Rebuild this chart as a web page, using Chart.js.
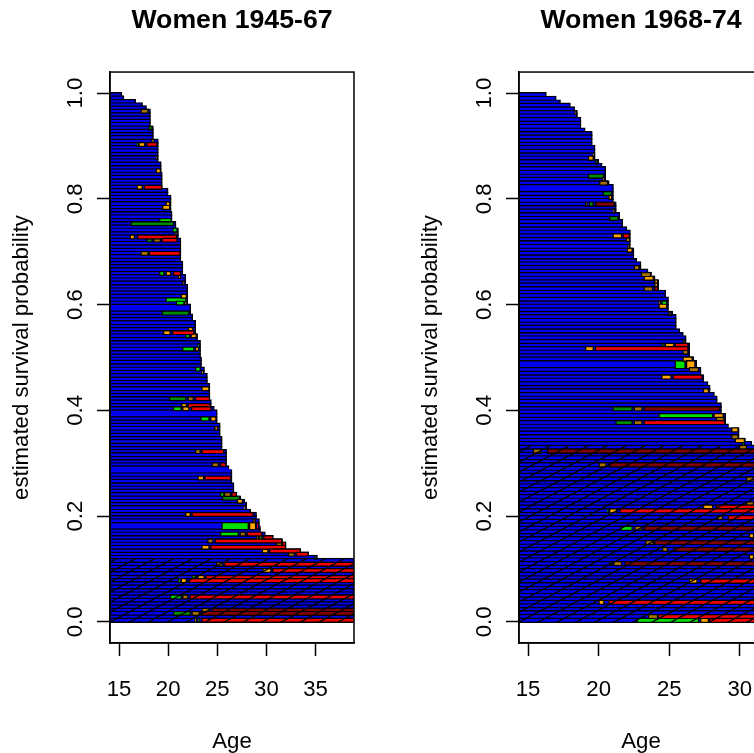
<!DOCTYPE html>
<html>
<head>
<meta charset="utf-8">
<title>Women survival</title>
<script src="https://cdn.jsdelivr.net/npm/chart.js@4"></script>
<style>
    html, body { margin: 0; padding: 0; width: 754px; height: 753px; overflow: hidden; background: #fff; }
    canvas { position: absolute; top: 0; }
    #panel1 { left: 0; }
    #panel2 { left: 409px; }
</style>
</head>
<body>
<canvas id="panel1" width="409" height="753"></canvas>
<canvas id="panel2" width="409" height="753"></canvas>
<script>
// Women 1945-67: one row per woman, top to bottom
let survival1 = [
    0.997,0.991,0.984,0.978,0.972,0.966,0.959,0.953,0.947,0.941,0.934,0.928,0.922,0.916,0.909,0.903,
    0.897,0.891,0.884,0.878,0.872,0.866,0.859,0.853,0.847,0.841,0.834,0.828,0.822,0.816,0.809,0.803,
    0.797,0.791,0.784,0.778,0.772,0.766,0.759,0.753,0.747,0.741,0.734,0.728,0.722,0.716,0.709,0.703,
    0.697,0.691,0.684,0.678,0.672,0.666,0.659,0.653,0.647,0.641,0.634,0.628,0.622,0.616,0.609,0.603,
    0.597,0.591,0.584,0.578,0.572,0.566,0.559,0.553,0.547,0.541,0.534,0.528,0.522,0.516,0.509,0.503,
    0.497,0.491,0.484,0.478,0.472,0.466,0.459,0.453,0.447,0.441,0.434,0.428,0.422,0.416,0.409,0.403,
    0.397,0.391,0.384,0.378,0.372,0.366,0.359,0.353,0.347,0.341,0.334,0.328,0.322,0.316,0.309,0.303,
    0.297,0.291,0.284,0.278,0.272,0.266,0.259,0.253,0.247,0.241,0.234,0.228,0.222,0.216,0.209,0.203,
    0.197,0.191,0.184,0.178,0.172,0.166,0.159,0.153,0.147,0.141,0.134,0.128,0.122,0.116,0.109,0.103,
    0.097,0.091,0.084,0.078,0.072,0.066,0.059,0.053,0.047,0.041,0.034,0.028,0.022,0.016,0.009,0.003
];
let ends1 = [
    15.3,15.5,16.7,17.4,17.8,18.2,18.2,18.2,18.2,18.2,18.5,18.5,18.5,18.5,19.0,19.0,
    19.0,19.0,19.0,19.0,19.0,19.3,19.3,19.3,19.4,19.4,19.4,19.4,19.4,20.0,20.0,20.3,
    20.3,20.3,20.3,20.3,20.4,20.4,20.4,20.8,20.8,21.05,21.05,21.05,21.3,21.3,21.3,21.3,
    21.3,21.3,21.3,21.5,21.5,21.5,21.5,21.8,21.8,21.8,22.0,22.0,22.0,22.0,22.0,22.0,
    22.3,22.3,22.3,22.5,22.5,22.8,22.8,22.8,22.8,23.0,23.0,23.3,23.3,23.3,23.3,23.3,
    23.4,23.4,23.4,23.7,23.7,24.0,24.0,24.0,24.25,24.25,24.25,24.25,24.25,24.4,24.4,24.7,
    25.0,25.0,25.0,25.0,25.3,25.3,25.3,25.3,25.5,25.5,25.5,25.5,25.95,25.95,25.95,25.95,
    25.95,26.2,26.5,26.5,26.5,26.5,26.7,26.7,26.7,27.0,27.4,27.8,28.0,28.0,28.4,29.0,
    29.0,29.3,29.3,29.4,29.4,29.9,30.7,31.65,32.0,32.0,33.5,34.3,35.2,40,40,40,
    40,40,40,40,40,40,40,40,40,40,40,40,40,40,40,40
];
// [row, from age, to age]
let green1 = [[15,16.8,17.0],[38,19.1,20.35],[41,20.45,20.95],[54,19.1,19.6],[62,19.75,21.85],[63,20.8,21.65],
    [73,21.75,22.2],[76,23.0,23.2],[77,21.45,22.65],[83,22.75,23.3],[95,20.5,21.35],[98,23.3,24.2],[121,25.3,25.7],
    [130,25.45,28.2],[131,25.45,28.2],[133,25.3,27.2],[134,29.25,29.6],[146,22.4,22.9],
    [147,21.0,21.3],[152,20.2,21.35],[159,23.0,23.25]];
let darkGreen1 = [[10,18.0,18.4],[39,16.2,20.6],[44,17.8,18.4],[66,19.35,22.15],[92,20.1,21.85],[122,25.5,27.3],
    [140,34.9,35.1],[157,20.5,22.3]];
let orange1 = [[14,18.3,18.6],[15,17.0,17.65],[23,18.75,19.25],[28,16.8,17.4],[33,19.75,20.2],[34,19.4,20.2],
    [42,20.7,20.9],[43,16.1,16.6],[54,19.75,20.3],[55,21.0,21.3],[61,21.3,21.9],[63,21.7,21.9],[71,22.0,22.55],
    [72,19.5,20.25],[73,22.3,22.9],[77,22.75,23.15],[84,23.4,23.6],[89,23.4,24.2],[94,21.35,21.9],[95,21.45,22.15],
    [98,24.3,24.9],[116,23.0,23.65],[123,27.0,27.6],[125,27.7,27.85],[127,21.75,22.3],[130,28.25,28.95],[131,28.25,28.95],
    [134,28.95,29.2],[137,23.4,24.2],[138,29.55,30.2],[144,29.6,30.5],[146,23.0,23.7],[147,21.3,21.9],
    [159,22.7,22.9]];
let darkOrange1 = [[5,17.2,18.0],[19,18.75,18.9],[44,18.5,19.25],[48,17.2,18.0],[57,21.45,21.65],[92,22.0,22.6],
    [101,24.7,25.1],[108,22.75,23.3],[112,24.45,25.15],[121,25.7,26.4],[129,28.6,28.9],[133,27.3,27.9],[135,24.0,24.6],
    [136,31.0,31.6],[139,32.2,32.9],[142,24.9,25.6],[152,21.45,22.05],[156,23.4,24.25],[157,22.4,23.2]];
let red1 = [[15,17.8,18.9],[28,17.55,19.4],[43,16.85,20.9],[44,19.35,20.95],[48,18.05,21.25],[54,20.5,21.3],
    [72,20.4,22.65],[92,22.75,24.25],[94,22.0,24.3],[95,22.35,24.4],[108,23.4,25.7],[112,25.3,25.9],[116,23.7,26.4],
    [121,26.45,27.0],[127,22.4,28.7],[130,29.0,29.2],[131,29.0,29.2],[133,28.0,29.6],[134,29.7,30.7],[135,24.75,31.6],
    [136,31.6,32.0],[137,24.3,32.0],[138,30.3,33.5],[139,33.0,34.3],[142,25.7,40],[144,30.6,40],
    [146,23.8,40],[147,22.1,40],[152,22.2,40],[159,23.4,40]];
let darkRed1 = [[156,24.45,40],[157,23.3,40]];
let wideRows1 = [64, 96, 113, 130];
let firstHatched1 = 141;
let ageTicks1 = [15, 20, 25, 30, 35];

// Women 1968-74
let survival2 = [
    0.997,0.990,0.983,0.977,0.970,0.963,0.957,0.950,0.943,0.937,0.930,0.923,0.917,0.910,0.903,
    0.897,0.890,0.883,0.877,0.870,0.863,0.857,0.850,0.843,0.837,0.830,0.823,0.817,0.810,0.803,
    0.797,0.790,0.783,0.777,0.770,0.763,0.757,0.750,0.743,0.737,0.730,0.723,0.717,0.710,0.703,
    0.697,0.690,0.683,0.677,0.670,0.663,0.657,0.650,0.643,0.637,0.630,0.623,0.617,0.610,0.603,
    0.597,0.590,0.583,0.577,0.570,0.563,0.557,0.550,0.543,0.537,0.530,0.523,0.517,0.510,0.503,
    0.497,0.490,0.483,0.477,0.470,0.463,0.457,0.450,0.443,0.437,0.430,0.423,0.417,0.410,0.403,
    0.397,0.390,0.383,0.377,0.370,0.363,0.357,0.350,0.343,0.337,0.330,0.323,0.317,0.310,0.303,
    0.297,0.290,0.283,0.277,0.270,0.263,0.257,0.250,0.243,0.237,0.230,0.223,0.217,0.210,0.203,
    0.197,0.190,0.183,0.177,0.170,0.163,0.157,0.150,0.143,0.137,0.130,0.123,0.117,0.110,0.103,
    0.097,0.090,0.083,0.077,0.070,0.063,0.057,0.050,0.043,0.037,0.030,0.023,0.017,0.010,0.003
];
let ends2 = [
    16.3,17.0,17.3,18.0,18.3,18.5,18.5,18.75,18.75,18.75,19.05,19.55,19.55,19.55,19.55,
    19.75,19.75,19.75,19.75,20.0,20.25,20.5,20.5,20.5,20.5,20.75,21.05,21.05,21.05,21.05,
    21.05,21.25,21.25,21.25,21.5,21.5,21.7,21.7,22.0,22.25,22.25,22.25,22.25,22.25,22.5,
    22.5,22.5,22.7,23.0,23.0,23.5,23.75,24.0,24.25,24.25,24.25,24.75,24.75,24.95,24.95,
    24.95,24.95,25.25,25.5,25.5,25.5,25.5,25.75,26.0,26.2,26.2,26.45,26.45,26.45,26.45,
    26.75,26.95,26.95,27.25,27.25,27.45,27.45,27.75,27.9,27.9,28.2,28.4,28.4,28.7,28.7,
    28.7,29.0,29.0,29.0,29.2,29.95,29.95,29.95,30.4,30.85,32,32,32,32,32,
    32,32,32,32,32,32,32,32,32,32,32,32,32,32,32,
    32,32,32,32,32,32,32,32,32,32,32,32,32,32,32,
    32,32,32,32,32,32,32,32,32,32,32,32,32,32,32
];
let green2 = [[59,24.45,24.85],[71,24.45,24.65],[76,25.4,26.15],[77,25.4,26.15],[91,24.25,28.1],[99,30.15,30.35],
    [118,20.6,20.7],[123,21.55,22.4],[149,22.7,27.1]];
let darkGreen2 = [[19,19.75,19.95],[23,19.25,20.4],[28,20.3,20.95],[31,19.3,19.65],[35,20.75,21.4],[89,21.0,22.4],
    [93,21.2,22.4],[133,20.75,20.95]];
let orange2 = [[17,19.6,19.7],[18,19.25,19.65],[24,20.25,20.4],[29,20.7,20.95],[33,21.0,21.15],[40,21.0,21.65],
    [41,21.95,22.2],[44,22.0,22.4],[52,23.2,23.9],[53,23.95,24.2],[54,23.95,24.2],[59,24.25,24.4],[60,24.25,24.85],
    [71,24.7,25.35],[72,19.05,19.65],[75,25.95,26.65],[76,26.2,26.85],[77,26.2,26.85],[80,24.45,25.15],[84,27.4,27.8],
    [91,28.15,28.85],[95,29.4,29.9],[98,29.65,30.35],[117,27.4,28.1],[118,20.75,21.3],[125,30.65,31.0],[131,30.65,31.0],
    [138,26.4,27.0],[144,20.0,20.4],[149,27.2,27.8]];
let darkOrange2 = [[5,18.3,18.45],[25,20.05,20.65],[31,19.05,19.2],[43,22.05,22.2],[49,22.5,22.9],[51,23.0,23.7],
    [55,23.2,23.85],[62,24.95,25.15],[70,25.95,26.15],[73,25.95,26.35],[78,26.4,27.1],[89,22.5,23.1],[92,28.3,28.9],
    [93,22.5,23.1],[97,29.4,29.9],[100,29.95,30.5],[101,15.35,15.95],[105,20.0,20.55],[109,30.45,31.0],[116,30.45,31.0],
    [120,28.4,28.8],[123,22.55,23.1],[127,23.3,23.9],[129,24.5,24.9],[133,21.05,21.65],[148,23.5,24.2]];
let red2 = [[40,21.7,22.2],[55,23.95,24.2],[71,25.4,26.35],[72,19.75,26.35],[80,25.25,27.35],[93,23.2,28.95],
    [117,28.3,32],[118,21.5,32],[120,29.15,32],[138,27.2,32],[144,20.7,32],[148,24.2,32],[149,27.85,32]];
let darkRed2 = [[31,19.75,21.15],[89,23.2,28.6],[101,16.35,32],[105,20.75,32],[123,23.2,32],[127,23.95,32],
    [129,25.3,32],[133,21.85,32]];
let wideRows2 = [26, 76];
let firstHatched2 = 100;
let ageTicks2 = [15, 20, 25, 30];

let survivalTicks = [0, 0.2, 0.4, 0.6, 0.8, 1];

Chart.defaults.font.family = "'Liberation Sans', Arial, sans-serif";
Chart.defaults.color = "#000";

// slanted black lines over the rows that are still open at the right edge
function hatch(color) {
    let c = document.createElement("canvas");
    c.width = 19;
    c.height = 10;
    let g = c.getContext("2d");
    g.fillStyle = color;
    g.fillRect(0, 0, 19, 10);
    g.strokeStyle = "#000";
    g.lineWidth = 1.3;
    g.beginPath();
    g.moveTo(-19, 20); g.lineTo(38, -10);
    g.moveTo(-19, 10); g.lineTo(19, -10);
    g.moveTo(0, 20); g.lineTo(38, 0);
    g.stroke();
    return g.createPattern(c, "repeat");
}

let rowBox = {
    id: "rowBox",
    afterDraw(chart) {
        let a = chart.chartArea;
        let ctx = chart.ctx;
        ctx.save();
        ctx.strokeStyle = "#000";
        ctx.lineWidth = 1.5;
        ctx.strokeRect(a.left, a.top, a.right - a.left, a.bottom - a.top);
        ctx.restore();
    }
};

function drawPanel(id, title, rows, ends, groups, wideRows, firstHatched, ageTicks, xMin, xMax, thickness) {
    function seriesFor(list, color, order) {
        let plain = color;
        let hatched = hatch(color);
        return {
            data: list.map(s => ({ x: [s[1], s[2]], y: rows[s[0]], row: s[0] })),
            backgroundColor: ctx => (ctx.raw && ctx.raw.row >= firstHatched ? hatched : plain),
            borderColor: "#000",
            borderWidth: 1.4,
            borderSkipped: ctx => {
                if (!ctx.raw) return false;
                if (wideRows.includes(ctx.raw.row)) return "bottom";
                if (wideRows.includes(ctx.raw.row - 1)) return "top";
                return false;
            },
            barThickness: thickness,
            grouped: false,
            order: order
        };
    }

    let blue = ends.map((end, i) => [i, xMin, end]);
    let datasets = [seriesFor(blue, "#0000f0", 9)];
    groups.forEach((g, i) => datasets.push(seriesFor(g.list, g.color, 8 - i)));

    new Chart(document.getElementById(id), {
        type: "bar",
        data: { datasets: datasets },
        plugins: [rowBox],
        options: {
            indexAxis: "y",
            responsive: false,
            animation: false,
            layout: { padding: { right: 55 } },
            plugins: {
                legend: { display: false },
                tooltip: { enabled: false },
                title: {
                    display: true,
                    text: title,
                    fullSize: false,
                    font: { size: 26.7, weight: "bold" },
                    padding: { top: 5, bottom: 35 }
                }
            },
            scales: {
                x: {
                    type: "linear",
                    min: xMin,
                    max: xMax,
                    afterFit: s => { s.height = 110; },
                    afterBuildTicks: s => { s.ticks = ageTicks.map(v => ({ value: v })); },
                    grid: { drawOnChartArea: false, tickLength: 13, tickColor: "#000", tickWidth: 1.5 },
                    border: { color: "#000", width: 1.5 },
                    ticks: { font: { size: 22.2 }, padding: 21, maxRotation: 0 },
                    title: { display: true, text: "Age", font: { size: 22.2, lineHeight: 1 }, padding: { top: 0, bottom: 0 } }
                },
                y: {
                    type: "linear",
                    min: -0.04,
                    max: 1.04,
                    offset: false,
                    afterFit: s => { s.width = 110; },
                    afterBuildTicks: s => { s.ticks = survivalTicks.map(v => ({ value: v })); },
                    grid: { offset: false, drawOnChartArea: false, tickLength: 13, tickColor: "#000", tickWidth: 1.5 },
                    border: { color: "#000", width: 1.5 },
                    ticks: {
                        font: { size: 22.2 },
                        padding: 6,
                        minRotation: 90,
                        maxRotation: 90,
                        crossAlign: "center",
                        callback: v => v.toFixed(1)
                    },
                    title: {
                        display: true,
                        text: "estimated survival probability",
                        font: { size: 22.2, lineHeight: 1 },
                        padding: { top: 11, bottom: 0 }
                    }
                }
            }
        }
    });
}

drawPanel("panel1", "Women 1945-67", survival1, ends1, [
    { list: green1, color: "#00e000" },
    { list: darkGreen1, color: "#008a00" },
    { list: orange1, color: "#ffa500" },
    { list: darkOrange1, color: "#a87000" },
    { list: red1, color: "#f00000" },
    { list: darkRed1, color: "#800000" }
], wideRows1, firstHatched1, ageTicks1, 14.08, 38.92, 4.7);

drawPanel("panel2", "Women 1968-74", survival2, ends2, [
    { list: green2, color: "#00e000" },
    { list: darkGreen2, color: "#008a00" },
    { list: orange2, color: "#ffa500" },
    { list: darkOrange2, color: "#a87000" },
    { list: red2, color: "#f00000" },
    { list: darkRed2, color: "#800000" }
], wideRows2, firstHatched2, ageTicks2, 14.36, 31.64, 4.92);
</script>
</body>
</html>
